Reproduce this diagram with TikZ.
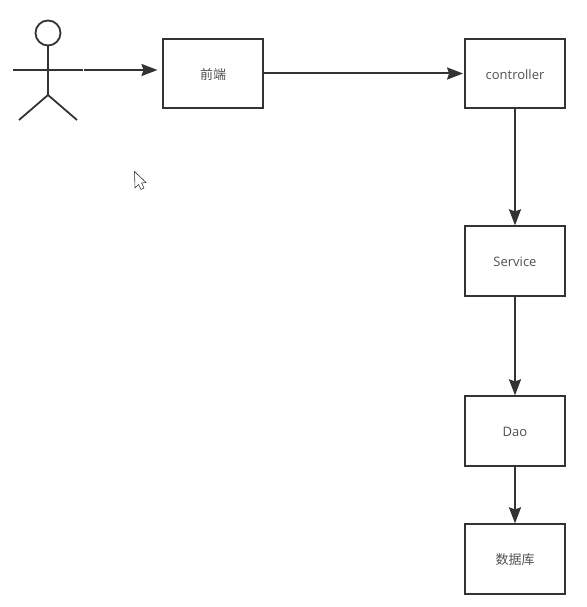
\documentclass[tikz,border=0pt]{standalone}
\usepackage{fontspec}
\setmainfont{Open Sans}
\newfontfamily\cjk{Noto Sans CJK SC}
\usetikzlibrary{arrows.meta}
\definecolor{linegray}{HTML}{333333}
\definecolor{textgray}{HTML}{505050}
\tikzset{
    box/.style={draw=linegray,line width=1.8pt,minimum width=100pt,minimum height=69.5pt,inner sep=0pt,
        text=textgray,font=\fontsize{13}{15}\selectfont,text height=11.5pt,text depth=0pt},
    link/.style={draw=linegray,line width=2pt,-{Stealth[length=16pt,width=12pt,inset=2pt]}},
    stick/.style={draw=linegray,line width=1.8pt}
}

\begin{document}
\begin{tikzpicture}[x=1pt,y=-1pt]
    \useasboundingbox (0,0) rectangle (586,607);

    % Draw boxes
    \node[box] (front) at (213,73.5) {\cjk 前端};
    \node[box] (controller) at (515,73.5) {controller};
    \node[box] (service) at (515,261) {Service};
    \node[box] (dao) at (515,431) {Dao};
    \node[box] (database) at (515,559) {\cjk 数据库};

    % Draw the actor
    \node[circle,stick,minimum size=25pt,inner sep=0pt] (head) at (48,33) {};
    \coordinate (waist) at (48,95);
    \coordinate (shoulder) at (48,70);
    \coordinate (lefthand) at (13,70);
    \coordinate (righthand) at (83,70);
    \coordinate (leftfoot) at (19,120);
    \coordinate (rightfoot) at (77,120);
    \draw[stick] (head) -- (waist);
    \draw[stick] (lefthand) -- (righthand);
    \draw[stick] (leftfoot) -- (waist) -- (rightfoot);

    % Draw arrows
    \coordinate (armstart) at (84,70);
    \coordinate (armend) at (157.5,70);
    \draw[link] (armstart) -- (armend);
    \draw[link,shorten >=1pt] (front) -- (controller);
    \draw[link] (controller) -- (service);
    \draw[link] (service) -- (dao);
    \draw[link] (dao) -- (database);

    % Draw mouse pointer
    \draw[linegray,fill=white,line width=0.6pt,line join=round] (134.5,171.5) -- (135,188) -- (138.5,184.5)
        -- (141,189.5) -- (144,188) -- (141.5,183) -- (146,182.5) -- cycle;
\end{tikzpicture}
\end{document}
